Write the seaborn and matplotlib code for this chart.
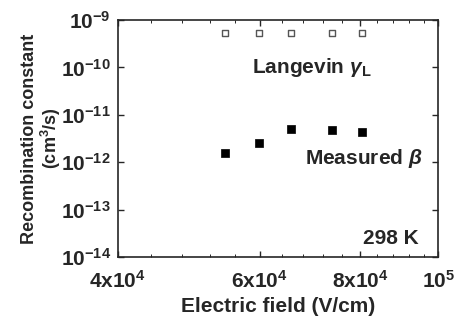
import numpy as np
import pandas as pd
import seaborn as sns
import matplotlib
matplotlib.use('Agg')
import matplotlib.pyplot as plt
from matplotlib.ticker import FixedLocator, FixedFormatter, LogLocator, NullFormatter

# data
field = [5.43e4, 5.99e4, 6.56e4, 7.38e4, 8.05e4]
langevin = [5.4e-10, 5.4e-10, 5.4e-10, 5.4e-10, 5.4e-10]
measured = [1.56e-12, 2.54e-12, 5.0e-12, 4.8e-12, 4.3e-12]

x_ticks = [4e4, 6e4, 8e4, 1e5]
x_ticklabels = [r'$4\mathrm{x}10^{4}$', r'$6\mathrm{x}10^{4}$', r'$8\mathrm{x}10^{4}$', r'$10^{5}$']
y_ticks = [1e-14, 1e-13, 1e-12, 1e-11, 1e-10, 1e-9]
y_ticklabels = [r'$10^{-14}$', r'$10^{-13}$', r'$10^{-12}$', r'$10^{-11}$', r'$10^{-10}$', r'$10^{-9}$']

sns.set_style('ticks')
plt.rcParams['font.family'] = ['Liberation Sans', 'DejaVu Sans']
plt.rcParams['font.weight'] = 'bold'
plt.rcParams['mathtext.fontset'] = 'custom'
plt.rcParams['mathtext.rm'] = 'Liberation Sans:bold'
plt.rcParams['mathtext.it'] = 'Liberation Sans:bold:italic'
plt.rcParams['mathtext.bf'] = 'Liberation Sans:bold'

df_l = pd.DataFrame({'field': field, 'k': langevin})
df_m = pd.DataFrame({'field': field, 'k': measured})

fig = plt.figure(figsize=(4.55, 3.2), dpi=100)
ax = fig.add_axes([0.259, 0.197, 0.704, 0.7405])

sns.scatterplot(data=df_l, x='field', y='k', ax=ax, marker='s', s=24,
                facecolor='white', edgecolor='#555555', linewidth=1.0)
sns.scatterplot(data=df_m, x='field', y='k', ax=ax, marker='s', s=30,
                color='black', edgecolor='black', linewidth=0.5)

ax.set_xscale('log')
ax.set_yscale('log')
ax.set_xlim(4e4, 1e5)
ax.set_ylim(1e-14, 1e-9)

ax.xaxis.set_major_locator(FixedLocator(x_ticks))
ax.xaxis.set_major_formatter(FixedFormatter(x_ticklabels))
ax.xaxis.set_minor_locator(FixedLocator(np.arange(4.4e4, 1e5, 4e3)))
ax.xaxis.set_minor_formatter(NullFormatter())
ax.yaxis.set_major_locator(FixedLocator(y_ticks))
ax.yaxis.set_major_formatter(FixedFormatter(y_ticklabels))
ax.yaxis.set_minor_locator(LogLocator(base=10, subs=np.arange(2, 10)))
ax.yaxis.set_minor_formatter(NullFormatter())

ax.tick_params(which='both', direction='in', top=True, right=True, labelsize=15)
ax.tick_params(which='major', length=4, width=1)
ax.tick_params(which='minor', length=2, width=0.7)
ax.tick_params(axis='x', which='major', pad=9)
ax.tick_params(axis='y', which='major', pad=5)
for s in ax.spines.values():
    s.set_linewidth(1.2)

ax.set_xlabel('Electric field (V/cm)', fontsize=15, fontweight='bold', labelpad=4)
ax.set_ylabel('Recombination constant\n' + r'(cm$^{3}$/s)', fontsize=13,
              fontweight='bold', labelpad=-2, linespacing=1.1)

ax.text(0.42, 0.80, r'Langevin $\gamma_{\mathrm{L}}$', transform=ax.transAxes,
        fontsize=15, fontweight='bold', ha='left', va='center')
ax.text(0.585, 0.415, r'Measured $\beta$', transform=ax.transAxes,
        fontsize=15, fontweight='bold', ha='left', va='center')
ax.text(0.94, 0.08, '298 K', transform=ax.transAxes,
        fontsize=15, fontweight='bold', ha='right', va='center')

fig.savefig('out.png', dpi=100)
